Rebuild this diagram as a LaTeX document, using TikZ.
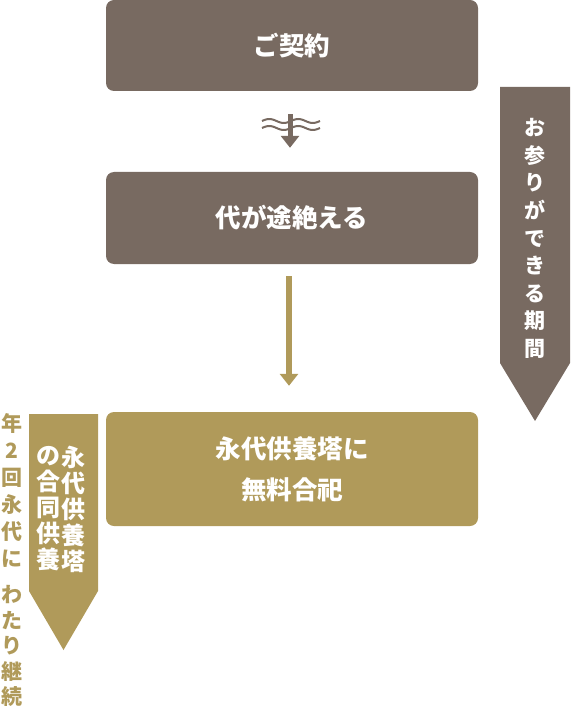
\documentclass[tikz,border=0pt]{standalone}
\usepackage{fontspec}
\usepackage{xcolor}
\usetikzlibrary{arrows.meta}
\newfontfamily\jp{Noto Sans CJK JP}
\definecolor{earth}{HTML}{786a61}
\definecolor{ochre}{HTML}{b09a5a}

\begin{document}
\begin{tikzpicture}[x=1pt, y=-1pt, line cap=butt,
  box/.style={rounded corners=8pt, minimum width=372pt, inner sep=0pt,
    text=white, align=center, font=\jp\bfseries\fontsize{25.5}{41}\selectfont},
  tate/.style={inner sep=0pt, align=center},
  flow/.style={line width=5pt, -{Triangle[width=18pt, length=12pt]}}]
  \useasboundingbox (0,0) rectangle (570,708);

  % Steps
  \node[box, fill=earth, minimum height=91pt] (contract) at (292,45.5) {ご契約};
  \node[box, fill=earth, minimum height=92pt] (ends) at (292,218) {代が途絶える};
  \node[box, fill=ochre, minimum height=114pt] (merge) at (292,469) {永代供養塔に\\無料合祀};

  % Arrows between steps
  \draw[flow, earth, shorten <=23pt, shorten >=24pt]
    ([xshift=-2pt]contract.south) -- ([xshift=-2pt]ends.north);
  \foreach \y in {121,128}
    \draw[earth, line width=2pt] plot[domain=262:320, samples=60]
      (\x, {\y - 2*sin((\x-262)/29*360)});
  \draw[flow, ochre, line width=6pt, shorten <=12pt, shorten >=26pt]
    ([xshift=-3pt]ends.south) -- ([xshift=-3pt]merge.north);

  % Visiting period
  \fill[earth] (500,87) -- (570,87) -- (570,363) -- (535,421) -- (500,363) -- cycle;
  \node[tate, text=white, font=\jp\bfseries\fontsize{21}{27.6}\selectfont]
    (period) at (535,238.5) {お\\参\\り\\が\\で\\き\\る\\期\\間};

  % Joint memorial
  \fill[ochre] (29,414) -- (98,414) -- (98,591) -- (63.5,650) -- (29,591) -- cycle;
  \node[tate, text=white, font=\jp\bfseries\fontsize{24}{26}\selectfont]
    (tower) at (73,509) {永\\代\\供\\養\\塔};
  \node[tate, text=white, font=\jp\bfseries\fontsize{24}{26}\selectfont]
    (joint) at (48,509) {の\\合\\同\\供\\養};
  \node[tate, text=ochre, font=\jp\bfseries\fontsize{21}{27}\selectfont]
    (twice) at (12,490) {年\\2\\回\\永\\代\\に};
  \node[tate, text=ochre, font=\jp\bfseries\fontsize{21}{25.5}\selectfont]
    (lasting) at (12,646) {わ\\た\\り\\継\\続};
\end{tikzpicture}
\end{document}
